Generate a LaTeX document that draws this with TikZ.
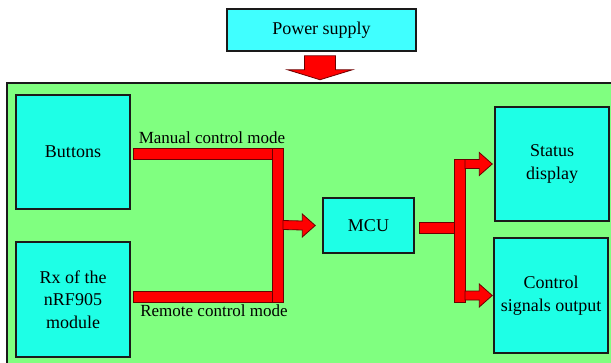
\documentclass[tikz,border=0pt]{standalone}
\usepackage{fontspec}
\setmainfont{Liberation Serif}
\newfontfamily\psserif{Liberation Serif}
\usetikzlibrary{calc,positioning}
\definecolor{psInk}{HTML}{1A1A1A}
\definecolor{psCyan}{HTML}{1EFFE6}
\definecolor{psSky}{HTML}{40FFFF}
\definecolor{psGreen}{HTML}{80FF80}
\definecolor{psRed}{HTML}{FF0000}
\definecolor{psDark}{HTML}{6A0000}
\newcommand{\boxfont}{\psserif\fontsize{18}{22.5}\selectfont}
\newcommand{\lblfont}{\psserif\fontsize{17}{20}\selectfont}
\tikzset{
  blk/.style   ={draw=psInk,line width=1.5pt,fill=psCyan,align=center,
                 inner sep=0pt,font=\boxfont,text=black},
  sqbox/.style ={blk,minimum width=114,minimum height=114},
  supply/.style={blk,fill=psSky,minimum width=189,minimum height=42},
  panel/.style ={draw=psInk,line width=1.4pt,fill=psGreen},
  bar/.style   ={draw=psDark,fill=psRed,line width=0.8pt,line join=miter},
  lbl/.style   ={font=\lblfont,text=black,inner sep=0pt},
}
\begin{document}
\begin{tikzpicture}[x=1pt,y=-1pt]
\useasboundingbox (0,0) rectangle (611,362);
\clip (0,0) rectangle (611,362);
% block arrow: #1 start of shaft, #2 tip (same height)
\newcommand{\blockarrow}[2]{\draw[bar] ($(#1)+(0,-4.5)$) -- ($(#2)+(-13,-4.5)$)
  -- ($(#2)+(-13,-11.5)$) -- (#2) -- ($(#2)+(-13,11.5)$) -- ($(#2)+(-13,4.5)$)
  -- ($(#1)+(0,4.5)$) -- cycle;}

\node[supply] (power) at (321.5,30) {Power supply};
\draw[panel] (7,83) rectangle (640,400);

% down arrow into the board
\draw[bar] ($(power.south)+(-17,4)$) -- ($(power.south)+(14,4)$)
  -- ($(power.south)+(14,18)$) -- ($(power.south)+(31,18)$)
  -- ($(power.south)+(-1.5,28)$) -- ($(power.south)+(-34,18)$)
  -- ($(power.south)+(-17,18)$) -- cycle;

\node[sqbox] (btn)  at (73,152)    {Buttons};
\node[sqbox,minimum height=115] (rx) at (73,299.5) {Rx of the\\nRF905\\module};
\node[blk,minimum width=91,minimum height=55] (mcu) at (368.5,225.5) {MCU};
\node[sqbox] (stat) at (552,164)   {Status\\display};
\node[sqbox,minimum height=115] (ctrl) at (551,295.5) {Control\\signals output};

\coordinate (jL) at (277.5,225);
\coordinate (jR) at (459.5,230.5);

% inputs to the MCU
\draw[bar] ($(btn.east)+(3,-4)$) rectangle ($(jL)+(-5.5,-66)$);
\draw[bar] ($(rx.east)+(3,-8.5)$) rectangle ($(jL)+(-5.5,77)$);
\draw[bar] ($(jL)+(-5.5,-77)$) rectangle ($(jL)+(5.5,77)$);
\blockarrow{$(jL)+(5.5,0)$}{$(mcu.west)+(-7,0)$}

\node[lbl,anchor=base] (manlbl) at (212,143) {Manual control mode};
\node[lbl,anchor=base] (remlbl) at (214,316) {Remote control mode};

% outputs of the MCU
\draw[bar] ($(mcu.east)+(5,-3.5)$) rectangle ($(jR)+(-5.5,2.5)$);
\draw[bar] ($(jR)+(-5.5,-71.5)$) rectangle ($(jR)+(5.5,71.5)$);
\blockarrow{$(jR |- stat.west)+(5.5,0)$}{$(stat.west)+(-2,0)$}
\blockarrow{$(jR |- ctrl.west)+(5.5,0)$}{$(ctrl.west)+(-1,0)$}
\end{tikzpicture}
\end{document}
